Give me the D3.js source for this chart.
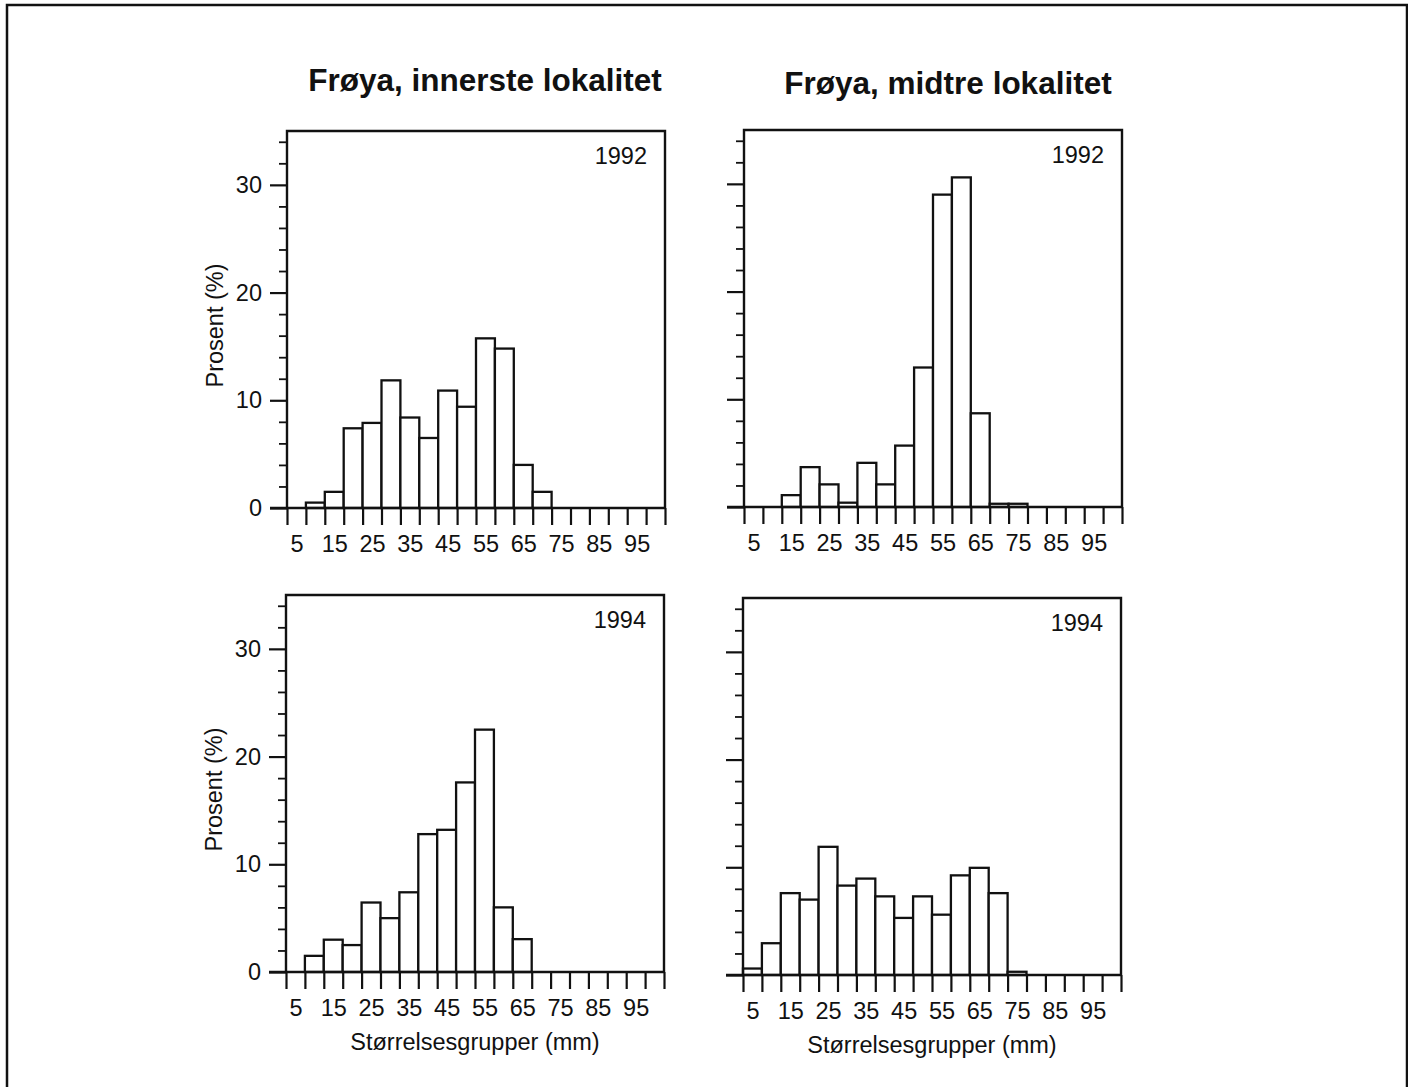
<!DOCTYPE html>
<html>
<head>
<meta charset="utf-8">
<script src="https://cdn.jsdelivr.net/npm/d3@7"></script>
<style>
  html, body { margin: 0; padding: 0; background: #fff; }
  svg { display: block; }
  text { font-family: "Liberation Sans", Arial, Helvetica, sans-serif; fill: #111; }
</style>
</head>
<body>
<svg id="chart" width="1408" height="1087"></svg>
<script>
// Size groups (mm), one bar per 5 mm group
const sizeGroups = [5, 10, 15, 20, 25, 30, 35, 40, 45, 50, 55, 60, 65, 70, 75, 80, 85, 90, 95, 100];
// Groups that carry a tick label on the x axis
const labelledGroups = [5, 15, 25, 35, 45, 55, 65, 75, 85, 95];
const yMajorTicks = [0, 10, 20, 30];
const yMinorTicks = [2, 4, 6, 8, 12, 14, 16, 18, 22, 24, 26, 28, 32, 34];

// Percent of individuals per size group
const innerste1992 = [0, 0.5, 1.5, 7.4, 7.9, 11.85, 8.4, 6.5, 10.9, 9.4, 15.75, 14.8, 4.0, 1.5, 0, 0, 0, 0, 0, 0];
const midtre1992   = [0, 0, 1.1, 3.7, 2.1, 0.4, 4.1, 2.1, 5.7, 12.95, 29.0, 30.6, 8.7, 0.3, 0.3, 0, 0, 0, 0, 0];
const innerste1994 = [0, 1.5, 3.0, 2.5, 6.45, 5.0, 7.4, 12.8, 13.2, 17.6, 22.5, 6.0, 3.05, 0, 0, 0, 0, 0, 0, 0];
const midtre1994   = [0.6, 2.95, 7.6, 7.0, 11.9, 8.3, 8.95, 7.3, 5.3, 7.3, 5.6, 9.25, 9.95, 7.6, 0.3, 0, 0, 0, 0, 0];

const columnTitles = ["Frøya, innerste lokalitet", "Frøya, midtre lokalitet"];
const yTitle = "Prosent (%)";
const xTitle = "Størrelsesgrupper (mm)";

const panels = [
  { values: innerste1992, year: "1992", left: 287, zero: 508, yLabels: true,  xTitle: false },
  { values: midtre1992,   year: "1992", left: 744, zero: 507, yLabels: false, xTitle: false },
  { values: innerste1994, year: "1994", left: 286, zero: 972, yLabels: true,  xTitle: true },
  { values: midtre1994,   year: "1994", left: 743, zero: 975, yLabels: false, xTitle: true }
];

const W = 378, H = 377;
const FS = 23.5;
const svg = d3.select("#chart");
const ink = "#111";

// outer frame (open at the bottom)
svg.append("path")
  .attr("d", "M7,1087V5H1407V1087")
  .attr("fill", "none").attr("stroke", ink).attr("stroke-width", 2.5);

// column titles
svg.append("text").attr("x", 485).attr("y", 91).attr("text-anchor", "middle")
  .attr("font-size", 31.5).attr("font-weight", "bold").text(columnTitles[0]);
svg.append("text").attr("x", 948).attr("y", 94).attr("text-anchor", "middle")
  .attr("font-size", 31.5).attr("font-weight", "bold").text(columnTitles[1]);

panels.forEach(p => {
  const g = svg.append("g").attr("transform", `translate(${p.left},${p.zero - H})`);

  // each group L is centred on L and spans L-2.5 .. L+2.5
  const x = d3.scaleLinear().domain([2.5, 102.5]).range([0, W]);
  const y = d3.scaleLinear().domain([0, 35]).range([H, 0]);

  // bars
  g.selectAll("rect.bar")
    .data(sizeGroups.map((s, i) => ({ s, v: p.values[i] })))
    .join("rect")
    .attr("class", "bar")
    .attr("x", d => x(d.s - 2.5))
    .attr("width", d => x(d.s + 2.5) - x(d.s - 2.5))
    .attr("y", d => y(d.v))
    .attr("height", d => y(0) - y(d.v))
    .attr("fill", "#fff")
    .attr("stroke", ink)
    .attr("stroke-width", 2.3);

  // box: left, top and right sides
  g.append("path")
    .attr("d", `M0,${H}V0H${W}V${H}`)
    .attr("fill", "none").attr("stroke", ink).attr("stroke-width", 2.4);

  // y axis major ticks (with labels on the left column only)
  const yMajor = g.append("g")
    .call(d3.axisLeft(y).tickValues(yMajorTicks).tickSize(17).tickPadding(8)
      .tickFormat(p.yLabels ? d3.format("d") : () => ""));
  yMajor.select(".domain").remove();
  yMajor.selectAll("line").attr("stroke", ink).attr("stroke-width", 2.2);
  yMajor.selectAll("text").attr("font-size", FS).attr("fill", ink)
    .attr("font-family", "'Liberation Sans', Arial, sans-serif");

  const yMinor = g.append("g")
    .call(d3.axisLeft(y).tickValues(yMinorTicks).tickSize(8).tickFormat(() => ""));
  yMinor.select(".domain").remove();
  yMinor.selectAll("line").attr("stroke", ink).attr("stroke-width", 1.8);

  // x axis: ticks at group boundaries
  const edges = sizeGroups.map(s => s - 2.5).concat([102.5]);
  const xTicks = g.append("g").attr("transform", `translate(0,${H})`)
    .call(d3.axisBottom(x).tickValues(edges).tickSize(17).tickFormat(() => ""));
  xTicks.select(".domain").remove();
  xTicks.selectAll("line").attr("stroke", ink).attr("stroke-width", 2.2);

  // x axis labels at group centres
  const xLabels = g.append("g").attr("transform", `translate(0,${H})`)
    .call(d3.axisBottom(x).tickValues(labelledGroups).tickSize(0).tickPadding(27)
      .tickFormat(d3.format("d")));
  xLabels.select(".domain").remove();
  xLabels.selectAll("text").attr("font-size", FS).attr("fill", ink)
    .attr("font-family", "'Liberation Sans', Arial, sans-serif");

  // zero line, running out to the left like a major tick
  g.append("line")
    .attr("x1", -17).attr("x2", W).attr("y1", H).attr("y2", H)
    .attr("stroke", ink).attr("stroke-width", 2.6);

  // year label
  g.append("text").attr("x", W - 18).attr("y", 33).attr("text-anchor", "end")
    .attr("font-size", FS).text(p.year);

  if (p.yLabels) {
    g.append("text")
      .attr("transform", `translate(-64,${H / 2 + 6}) rotate(-90)`)
      .attr("text-anchor", "middle")
      .attr("font-size", FS).text(yTitle);
  }
  if (p.xTitle) {
    g.append("text").attr("x", W / 2).attr("y", H + 78).attr("text-anchor", "middle")
      .attr("font-size", FS).text(xTitle);
  }
});
</script>
</body>
</html>
